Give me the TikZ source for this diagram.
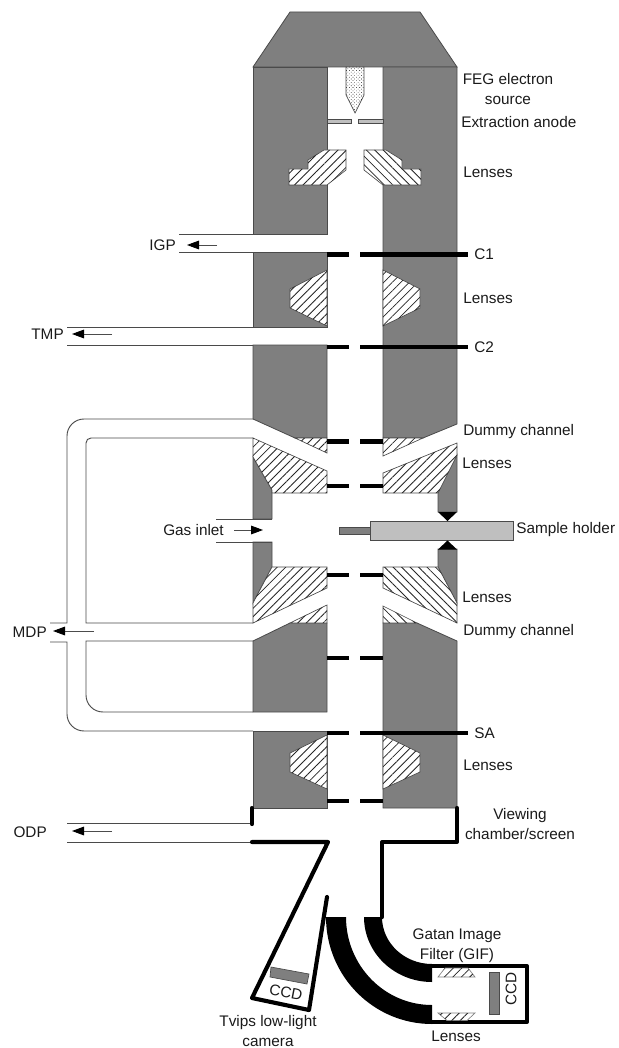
\documentclass[tikz,border=0pt]{standalone}
\usepackage{fontspec}
\setmainfont{Liberation Sans}
\usetikzlibrary{patterns.meta,arrows.meta}
\definecolor{colgray}{HTML}{7F7F7F}
\definecolor{edgegray}{HTML}{4A4A4A}
\definecolor{holdergray}{HTML}{BFBFBF}
\definecolor{txt}{HTML}{1A1A1A}
\tikzset{
  column/.style={fill=colgray,draw=edgegray,line width=0.6pt},
  hatchr/.style={fill=white,draw=edgegray,line width=0.5pt,postaction={pattern={Lines[angle=45,distance=4.5pt,line width=0.6pt]},pattern color=black!85}},
  hatchl/.style={fill=white,draw=edgegray,line width=0.5pt,postaction={pattern={Lines[angle=-45,distance=4.5pt,line width=0.6pt]},pattern color=black!85}},
  wallline/.style={draw=edgegray,line width=0.7pt},
  bar/.style={line width=3.4pt,black},
  wall/.style={line width=3.1pt,black,line cap=round,line join=round},
  pumparrow/.style={draw=black!70,line width=0.7pt,-{Stealth[length=9pt,width=6.5pt,inset=0pt,color=black]}},
  lbl/.style={inner sep=0pt,font=\fontsize{11.5}{14}\selectfont,text=txt},
  lblc/.style={lbl,align=center},
  lbll/.style={lbl,anchor=west},
  lblr/.style={lbl,anchor=east},
}
\begin{document}
\begin{tikzpicture}[x=0.75pt,y=-0.75pt]
\useasboundingbox (0,0) rectangle (618,1048);
% top cap
\path[column] (253,67) -- (290,12) -- (420,12) -- (457,67) -- cycle;
% left column pieces
\path[column] (253,67) -- (327,67) -- (327,234) -- (253,234) -- cycle;
\path[column] (253,252) -- (327,252) -- (327,327) -- (253,327) -- cycle;
\path[column] (253,345) -- (327,345) -- (327,438) -- (295,438) -- (253,419) -- cycle;
\path[column] (253,457) -- (272,490) -- (272,519) -- (253,519) -- cycle;
\path[column] (253,542) -- (272,542) -- (272,567) -- (253,603) -- cycle;
\path[column] (253,641) -- (290,623) -- (327,623) -- (327,712) -- (253,712) -- cycle;
\path[column] (253,731) -- (327,731) -- (327,808) -- (253,808) -- cycle;
% right column pieces
\path[column] (383,67) -- (457,67) -- (457,424) -- (423,438) -- (383,438) -- cycle;
\path[column] (457,455) -- (438,490) -- (438,512) -- (457,512) -- cycle;
\path[column] (438,549) -- (457,549) -- (457,603) -- (438,567) -- cycle;
\path[column] (383,623) -- (417,623) -- (457,641) -- (457,808) -- (383,808) -- cycle;
% lenses
\path[hatchr] (289,169) -- (308,169) -- (308,160) -- (324,150) -- (346,150) -- (346,170) -- (327,185) -- (289,185) -- cycle;
\path[hatchl] (421,169) -- (402,169) -- (402,160) -- (386,150) -- (364,150) -- (364,170) -- (383,185) -- (421,185) -- cycle;
\path[hatchr] (327,270) -- (290,289) -- (290,308) -- (327,326) -- cycle;
\path[hatchr] (383,270) -- (420,289) -- (420,308) -- (383,326) -- cycle;
\path[hatchr] (327,735) -- (290,753) -- (290,772) -- (327,789) -- cycle;
\path[hatchr] (383,735) -- (420,753) -- (420,772) -- (383,789) -- cycle;
% upper lenses
\path[hatchr] (295,438) -- (327,438) -- (327,453) -- cycle;
\path[hatchr] (253,438) -- (327,471) -- (327,493) -- (272,493) -- (272,490) -- (253,457) -- cycle;
\path[hatchr] (383,438) -- (423,438) -- (383,456) -- cycle;
\path[hatchr] (383,473) -- (457,443) -- (457,455) -- (438,493) -- (383,493) -- cycle;
% lower lenses
\path[hatchr] (272,567) -- (327,567) -- (327,588) -- (253,623) -- (253,603) -- cycle;
\path[hatchr] (327,605) -- (327,623) -- (290,623) -- cycle;
\path[hatchl] (383,567) -- (438,567) -- (457,603) -- (457,623) -- (383,588) -- cycle;
\path[hatchl] (383,606) -- (417,623) -- (383,623) -- cycle;
% pump channels
\draw[wallline] (179,234) -- (253,234);
\draw[wallline] (179,252) -- (253,252);
\draw[wallline] (67,327) -- (253,327);
\draw[wallline] (67,345) -- (253,345);
\draw[wallline] (253,419) -- (84,419) .. controls (74.6,419) and (67,426.6) .. (67,436) -- (67,623) -- (50,623);
\draw[wallline] (253,438) -- (91,438) .. controls (88.2,438) and (86,440.2) .. (86,443) -- (86,623) -- (253,623);
\draw[wallline] (50,642) -- (67,642) -- (67,714) .. controls (67,723.4) and (74.6,731) .. (84,731) -- (253,731);
\draw[wallline] (253,641) -- (86,641) -- (86,695) .. controls (86,704.4) and (93.6,712) .. (103,712) -- (253,712);
\draw[wallline] (216,519) -- (272,519);
\draw[wallline] (216,542) -- (272,542);
\draw[wallline] (67,823) -- (252,823);
\draw[wallline] (67,842) -- (252,842);
% FEG and anode
\path[draw=edgegray,line width=0.5pt,fill=white,postaction={pattern={Dots[radius=0.32pt,distance=1.8pt,angle=45]},pattern color=black}] (346,67) -- (346,95) -- (355,113) -- (364,95) -- (364,67) -- cycle;
\path[draw=edgegray,line width=0.5pt,fill=holdergray] (327,119) rectangle (351,123);
\path[draw=edgegray,line width=0.5pt,fill=holdergray] (358,119) rectangle (383,123);
% sample holder
\path[draw=edgegray,line width=0.7pt,fill=colgray] (339,527) rectangle (370,534);
\path[draw=edgegray,line width=0.7pt,fill=holdergray] (370,521) rectangle (513,540);
\fill[black] (438,512) -- (457,512) -- (447.5,521) -- cycle;
\fill[black] (438,549.5) -- (457,549.5) -- (447.5,540.5) -- cycle;
% apertures
\foreach \yy in {441.5,486,575,658,801} {
  \draw[bar] (327,\yy) -- (349,\yy);
  \draw[bar] (360,\yy) -- (383,\yy);
}
\foreach \yy in {254.5,347,733} {
  \draw[bar] (327,\yy) -- (349,\yy);
  \draw[bar] (360,\yy) -- (468,\yy);
}
% viewing chamber walls
\draw[wall] (252,808) -- (252,824);
\draw[wall] (252,842) -- (328,842) -- (252,998) -- (309,1010) -- (327,897);
\draw[wall] (457,808) -- (457,842) -- (382,842) -- (382,917);
% energy filter bands
\fill[black] (364,917) arc[start angle=180,end angle=270,x radius=68,y radius=-65] -- (432,964)
  arc[start angle=270,end angle=180,x radius=50,y radius=-47] -- cycle;
\fill[black] (326,917) arc[start angle=180,end angle=270,x radius=106,y radius=-107] -- (432,1005)
  arc[start angle=270,end angle=180,x radius=86,y radius=-88] -- cycle;
\draw[wall,line cap=butt] (432,966) -- (527,966) -- (527,1022) -- (432,1022);
\path[hatchr,draw=gray] (438,977) -- (475,977) -- (468,968) -- (445,968) -- cycle;
\path[hatchr,draw=gray] (438,1013) -- (475,1013) -- (467,1020.5) -- (447,1020.5) -- cycle;
\path[draw=edgegray,line width=0.5pt,fill=colgray] (489,972) rectangle (499,1014);
\path[draw=edgegray,line width=0.5pt,fill=colgray] (271,967) -- (309,974) -- (307,984) -- (270,977) -- cycle;
% pump arrows
\coordinate (igpTail) at (217,245); \coordinate (igpTip) at (187,245);
\coordinate (tmpTail) at (112,334); \coordinate (tmpTip) at (72,334);
\coordinate (gasTail) at (234,530); \coordinate (gasTip) at (263,530);
\coordinate (mdpTail) at (94,631);  \coordinate (mdpTip) at (53,631);
\coordinate (odpTail) at (112,831); \coordinate (odpTip) at (72,831);
\draw[pumparrow] (igpTail) -- (igpTip);
\draw[pumparrow] (tmpTail) -- (tmpTip);
\draw[pumparrow] (gasTail) -- (gasTip);
\draw[pumparrow] (mdpTail) -- (mdpTip);
\draw[pumparrow] (odpTail) -- (odpTip);
% labels
\node[lblc] (feg) at (508,89) {FEG electron\\[1pt]source};
\node[lbll] (anode) at (461,122) {Extraction anode};
\node[lbll] (lens1) at (463,172) {Lenses};
\node[lbll] (c1) at (474,254) {C1};
\node[lbll] (lens2) at (463,298) {Lenses};
\node[lbll] (c2) at (474,347) {C2};
\node[lbll] (dummy1) at (463,432) {Dummy channel};
\node[lbll] (lens3) at (462,463) {Lenses};
\node[lbll] (holder) at (516,530) {Sample holder};
\node[lbll] (lens4) at (462,597) {Lenses};
\node[lbll] (dummy2) at (463,632) {Dummy channel};
\node[lbll] (sa) at (474,733) {SA};
\node[lbll] (lens5) at (463,765) {Lenses};
\node[lblc] (view) at (520,824) {Viewing\\[1pt]chamber/screen};
\node[lblc] (gif) at (457,946) {Gatan Image\\[1pt]Filter (GIF)};
\node[lblc] (lens6) at (456,1036) {Lenses};
\node[lblc] (tvips) at (268,1031) {Tvips low-light\\[1pt]camera};
\node[lblr] (igp) at (176,245) {IGP};
\node[lblr] (tmp) at (64,334) {TMP};
\node[lbl,anchor=west] (gas) at (163,530) {Gas inlet};
\node[lblr] (mdp) at (47,632) {MDP};
\node[lblr] (odp) at (47,832) {ODP};
\node[lblc,rotate=90] (ccdA) at (511,989) {CCD};
\node[lblc,rotate=-11] (ccdB) at (286,992) {CCD};
\end{tikzpicture}
\end{document}
